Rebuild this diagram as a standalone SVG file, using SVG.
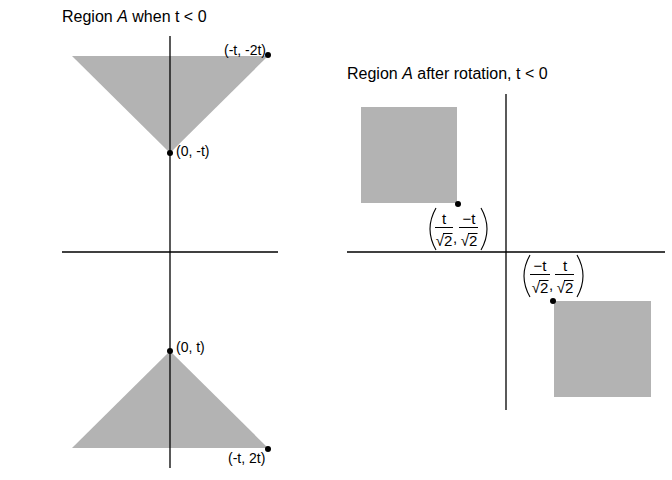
<svg xmlns="http://www.w3.org/2000/svg" width="672" height="480" viewBox="0 0 672 480">
<style>
.axis{stroke:#000;stroke-width:1.3;fill:none}
.reg{fill:#b3b3b3;stroke:none}
.dot{fill:#000}
.title{font-family:"Liberation Sans",Arial,sans-serif;font-size:16px;fill:#000}
.lbl{font-family:"Liberation Sans",Arial,sans-serif;font-size:14px;fill:#000}
.frac{font-family:"Liberation Sans",Arial,sans-serif;font-size:15px;fill:#000}
.bar{stroke:#000;stroke-width:1;fill:none}
.paren{stroke:#000;stroke-width:1.1;fill:none}
</style>
<rect width="672" height="480" fill="#fff"/>
<text class="title" x="62" y="22">Region <tspan font-style="italic">A</tspan> when t &lt; 0</text>
<text class="title" x="347" y="79">Region <tspan font-style="italic">A</tspan> after rotation, t &lt; 0</text>

<g id="regionTopLeft"><polygon class="reg" points="72,56 268,56 170,153"/></g>
<g id="regionBottomLeft"><polygon class="reg" points="170,351 72,448 268,448"/></g>
<g id="squareTop"><rect class="reg" x="361" y="107" width="96" height="96"/></g>
<g id="squareBottom"><rect class="reg" x="554" y="301" width="97" height="96"/></g>

<g id="axes">
<line class="axis" x1="62" y1="252" x2="278" y2="252"/>
<line class="axis" x1="170" y1="36" x2="170" y2="468"/>
<line class="axis" x1="347" y1="252" x2="665" y2="252"/>
<line class="axis" x1="506" y1="94" x2="506" y2="410"/>
</g>

<g id="points">
<circle class="dot" cx="268" cy="55" r="3"/>
<circle class="dot" cx="170" cy="153" r="3"/>
<circle class="dot" cx="170" cy="351" r="3"/>
<circle class="dot" cx="268" cy="449" r="3"/>
<circle class="dot" cx="458" cy="204" r="3"/>
<circle class="dot" cx="553" cy="301" r="3"/>
</g>

<g id="labels">
<text class="lbl" x="224" y="55">(-t, -2t)</text>
<text class="lbl" x="176" y="156">(0, -t)</text>
<text class="lbl" x="176" y="352">(0, t)</text>
<text class="lbl" x="228" y="463">(-t, 2t)</text>
</g>

<g id="frac1">
<path class="paren" d="M436,208 Q424,229 436,250"/>
<text class="frac" x="444" y="224" text-anchor="middle">t</text>
<line class="bar" x1="435" y1="227.5" x2="453" y2="227.5"/>
<text class="frac" x="444" y="246" text-anchor="middle">√2</text>
<line class="bar" x1="443" y1="233.5" x2="452.5" y2="233.5"/>
<text class="frac" x="453" y="243">,</text>
<text class="frac" x="469" y="224" text-anchor="middle">−t</text>
<line class="bar" x1="459" y1="227.5" x2="478" y2="227.5"/>
<text class="frac" x="469" y="246" text-anchor="middle">√2</text>
<line class="bar" x1="468" y1="233.5" x2="477.5" y2="233.5"/>
<path class="paren" d="M481,208 Q493,229 481,250"/>
</g>

<g id="frac2">
<path class="paren" d="M530,255 Q518,276 530,297"/>
<text class="frac" x="540" y="271" text-anchor="middle">−t</text>
<line class="bar" x1="530" y1="274.5" x2="550" y2="274.5"/>
<text class="frac" x="540" y="293" text-anchor="middle">√2</text>
<line class="bar" x1="539" y1="280.5" x2="548.5" y2="280.5"/>
<text class="frac" x="549" y="290">,</text>
<text class="frac" x="565" y="271" text-anchor="middle">t</text>
<line class="bar" x1="555" y1="274.5" x2="574" y2="274.5"/>
<text class="frac" x="565" y="293" text-anchor="middle">√2</text>
<line class="bar" x1="564" y1="280.5" x2="573.5" y2="280.5"/>
<path class="paren" d="M577,255 Q589,276 577,297"/>
</g>
</svg>
